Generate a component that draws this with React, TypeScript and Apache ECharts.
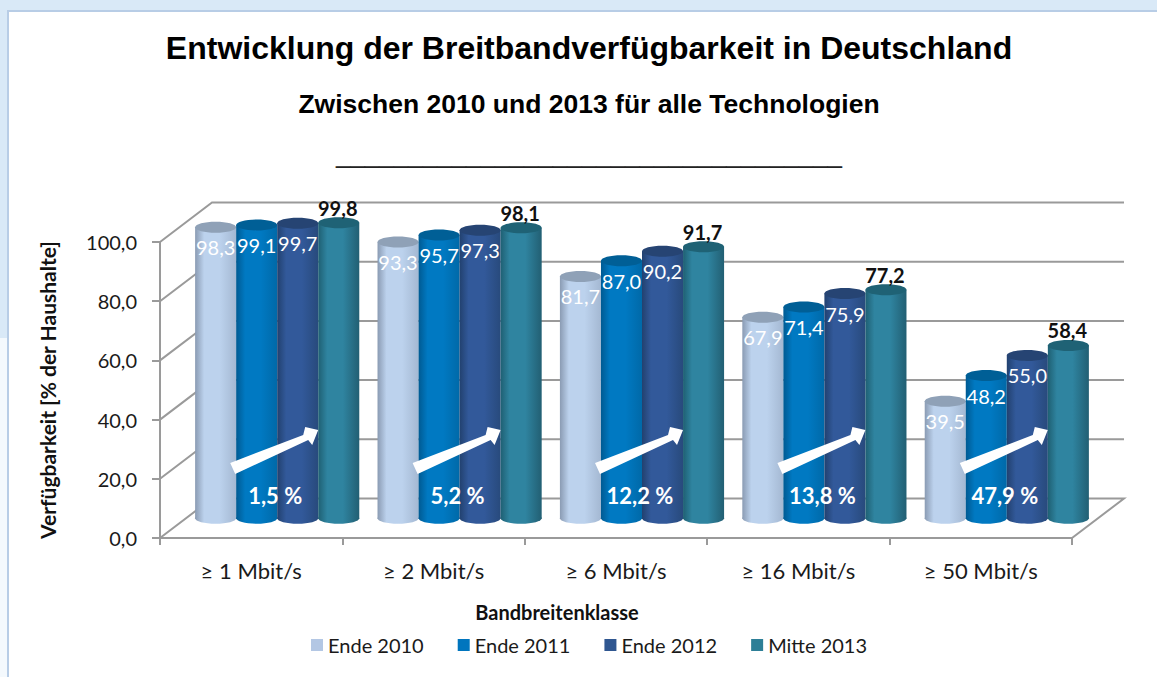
import React, { useEffect, useRef } from "react";
import * as echarts from "echarts";

const categories = ["≥ 1 Mbit/s", "≥ 2 Mbit/s", "≥ 6 Mbit/s", "≥ 16 Mbit/s", "≥ 50 Mbit/s"];
const ende2010 = [98.3, 93.3, 81.7, 67.9, 39.5];
const ende2011 = [99.1, 95.7, 87.0, 71.4, 48.2];
const ende2012 = [99.7, 97.3, 90.2, 75.9, 55.0];
const mitte2013 = [99.8, 98.1, 91.7, 77.2, 58.4];
const gains = ["1,5 %", "5,2 %", "12,2 %", "13,8 %", "47,9 %"];
const yTicks = [0, 20, 40, 60, 80, 100];

const FONT = "Lato, 'Noto Sans', sans-serif";
const DEPTH_X = 52;
const DEPTH_Y = 39.5;
const GRID_COLOR = "#9a9a9a";
const fmt = (v: number) => v.toFixed(1).replace(".", ",");

function cylinderSeries(name: string, values: number[], pos: number, colors: string[], top: string, dark: boolean) {
  return {
    type: "custom",
    name,
    z: 3,
    clip: false,
    silent: true,
    itemStyle: { color: colors[3] },
    encode: { x: 0, y: 1 },
    data: values.map((v, i) => [i, v]),
    renderItem: (_p: any, api: any) => {
      const i = api.value(0);
      const v = api.value(1);
      const w = api.size([1, 0])[0] * 0.225;
      const [cx0, yTop0] = api.coord([i, v]);
      const [, yBase0] = api.coord([i, 0]);
      const cx = cx0 + DEPTH_X / 2 + (pos - 1.5) * w;
      const yTop = yTop0 - DEPTH_Y / 2;
      const yBase = yBase0 - DEPTH_Y / 2;
      const ry = 5.5;
      const fill = new echarts.graphic.LinearGradient(0, 0, 1, 0, [
        { offset: 0, color: colors[0] },
        { offset: 0.22, color: colors[1] },
        { offset: 0.6, color: colors[1] },
        { offset: 1, color: colors[2] },
      ]);
      return {
        type: "group",
        children: [
          { type: "ellipse", shape: { cx, cy: yBase, rx: w / 2, ry }, style: { fill } },
          { type: "rect", shape: { x: cx - w / 2, y: yTop, width: w, height: yBase - yTop }, style: { fill } },
          { type: "ellipse", shape: { cx, cy: yTop, rx: w / 2, ry }, style: { fill: top } },
          {
            type: "text",
            z2: 100,
            style: {
              text: fmt(v),
              x: dark ? cx - 1 : cx,
              y: dark ? yTop - 15 : yTop + 20,
              align: "center",
              verticalAlign: "middle",
              fill: dark ? "#111111" : "#ffffff",
              fontFamily: FONT,
              fontWeight: dark ? "bold" : "normal",
              fontSize: 20,
            },
          },
        ],
      };
    },
  };
}

const frameSeries = {
  type: "custom",
  name: "Raster",
  z: 1,
  clip: false,
  silent: true,
  encode: { y: 1 },
  data: yTicks.map((t) => [0, t]),
  renderItem: (_p: any, api: any) => {
    const v = api.value(1);
    const band = api.size([1, 0])[0];
    const [cx0, y] = api.coord([0, v]);
    const [cx1] = api.coord([categories.length - 1, v]);
    const x0 = cx0 - band / 2;
    const x1 = cx1 + band / 2;
    const style = { stroke: GRID_COLOR, lineWidth: 2, fill: "none" };
    const points = [[x0, y], [x0 + DEPTH_X, y - DEPTH_Y], [x1 + DEPTH_X, y - DEPTH_Y]];
    if (v === 0) points.push([x1, y]);
    return { type: "polyline", shape: { points }, style };
  },
};

const arrowSeries = {
  type: "custom",
  name: "Zuwachs",
  z: 4,
  clip: false,
  silent: true,
  encode: { x: 0, y: 1 },
  data: categories.map((_c, i) => [i, 0]),
  renderItem: (_p: any, api: any) => {
    const i = api.value(0);
    const [cx, y0] = api.coord([i, 0]);
    const p = (dx: number, dy: number) => [cx + dx, y0 + dy];
    return {
      type: "group",
      children: [
        {
          type: "polygon",
          z2: 200,
          shape: {
            points: [
              p(-21, -75), p(52, -103), p(54, -111), p(67, -108), p(61, -93),
              p(57, -98), p(-16, -64),
            ],
          },
          style: { fill: "#ffffff" },
        },
        {
          type: "text",
          z2: 200,
          style: {
            text: gains[i],
            x: cx + 24,
            y: y0 - 43,
            align: "center",
            verticalAlign: "middle",
            fill: "#ffffff",
            fontFamily: FONT,
            fontWeight: "bold",
            fontSize: 22,
          },
        },
      ],
    };
  },
};

const option: any = {
  animation: false,
  backgroundColor: "#ffffff",
  title: [
    {
      text: "Entwicklung der Breitbandverfügbarkeit in Deutschland",
      left: 584,
      top: 27,
      textAlign: "center",
      textStyle: { fontFamily: "'Liberation Sans', Arial", fontWeight: "bold", fontSize: 32, color: "#000" },
    },
    {
      text: "Zwischen 2010 und 2013 für alle Technologien",
      left: 584,
      top: 85,
      textAlign: "center",
      textStyle: { fontFamily: "'Liberation Sans', Arial", fontWeight: "bold", fontSize: 26.5, color: "#000" },
    },
    {
      text: "___________________________________",
      left: 584,
      top: 136,
      textAlign: "center",
      textStyle: { fontFamily: "'Liberation Sans', Arial", fontWeight: "normal", fontSize: 26, color: "#222" },
    },
  ],
  graphic: [
    { type: "rect", z: -1, silent: true, shape: { x: 0, y: 0, width: 1157, height: 10 }, style: { fill: "#d9e9f7" } },
    { type: "rect", z: -1, silent: true, shape: { x: 0, y: 10, width: 7, height: 328 }, style: { fill: "#d9e9f7" } },
    { type: "rect", z: -1, silent: true, shape: { x: 0, y: 338, width: 7, height: 339 }, style: { fill: "#f4f9fd" } },
    { type: "rect", z: -1, silent: true, shape: { x: 7, y: 10, width: 1150, height: 2 }, style: { fill: "#b8cde6" } },
    { type: "rect", z: -1, silent: true, shape: { x: 7, y: 10, width: 2, height: 667 }, style: { fill: "#b8cde6" } },
  ],
  grid: { left: 160, top: 242, width: 912, height: 296, containLabel: false },
  legend: {
    data: ["Ende 2010", "Ende 2011", "Ende 2012", "Mitte 2013"],
    left: 306,
    top: 630,
    itemWidth: 12,
    itemHeight: 12,
    icon: "rect",
    itemGap: 34,
    textStyle: { fontFamily: FONT, fontSize: 20, color: "#1a1a1a" },
  },
  xAxis: {
    type: "category",
    data: categories,
    name: "Bandbreitenklasse",
    nameLocation: "middle",
    nameGap: 64,
    nameTextStyle: { fontFamily: FONT, fontWeight: "bold", fontSize: 20, color: "#111", padding: [0, 118, 0, 0] },
    axisLine: { lineStyle: { color: GRID_COLOR, width: 2 } },
    axisTick: { show: true, length: 7, lineStyle: { color: GRID_COLOR, width: 2 } },
    axisLabel: { fontFamily: FONT, fontSize: 22, color: "#1a1a1a", margin: 21 },
  },
  yAxis: {
    type: "value",
    min: 0,
    max: 100,
    interval: 20,
    name: "Verfügbarkeit [% der Haushalte]",
    nameLocation: "middle",
    nameRotate: 90,
    nameGap: 102,
    nameTextStyle: { fontFamily: FONT, fontWeight: "bold", fontSize: 21, color: "#111" },
    axisLine: { show: true, lineStyle: { color: GRID_COLOR, width: 2 } },
    axisTick: { show: true, length: 8, lineStyle: { color: GRID_COLOR, width: 2 } },
    splitLine: { show: false },
    axisLabel: { fontFamily: FONT, fontSize: 20, color: "#1a1a1a", margin: 23, formatter: (v: number) => fmt(v) },
  },
  series: [
    frameSeries,
    cylinderSeries("Ende 2010", ende2010, 0, ["#8a9bb3", "#bcd2ed", "#a4b8d2", "#b3c7e4"], "#8fa1b7", false),
    cylinderSeries("Ende 2011", ende2011, 1, ["#005a92", "#0079c2", "#0069a8", "#0075be"], "#005f96", false),
    cylinderSeries("Ende 2012", ende2012, 2, ["#22416f", "#32599a", "#284a7c", "#2f5690"], "#264473", false),
    cylinderSeries("Mitte 2013", mitte2013, 3, ["#1f6073", "#2f84a0", "#225f73", "#2d7f97"], "#1f6275", true),
    arrowSeries,
  ],
};

export default function App() {
  const ref = useRef<HTMLDivElement>(null);
  useEffect(() => {
    document.body.style.margin = "0";
    const chart = echarts.init(ref.current!, undefined, { renderer: "svg" });
    chart.setOption(option);
    return () => chart.dispose();
  }, []);
  return <div ref={ref} style={{ width: 1157, height: 677 }} />;
}
